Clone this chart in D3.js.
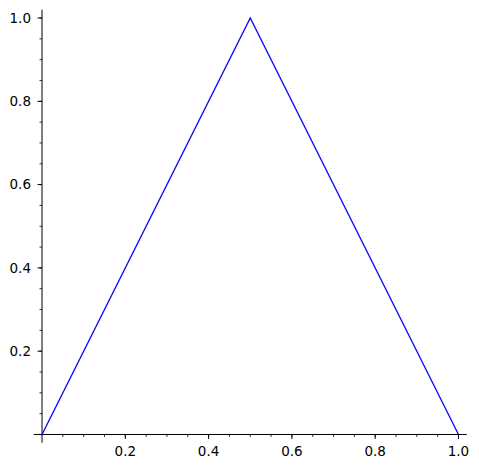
<!DOCTYPE html>
<html>
<head>
<meta charset="utf-8">
<script src="https://cdn.jsdelivr.net/npm/d3@7"></script>
<style>
  body { margin: 0; background: #fff; }
  text { font-family: "DejaVu Sans", sans-serif; font-size: 13.5px; fill: #000; }
</style>
</head>
<body>
<svg width="479" height="468"></svg>
<script>
// triangle function sampled at its corners
var xValues = [0, 0.5, 1];
var yValues = [0, 1, 0];
var xTicks = [0.2, 0.4, 0.6, 0.8, 1.0];
var yTicks = [0.2, 0.4, 0.6, 0.8, 1.0];
var minorTicks = d3.range(0.05, 1.0001, 0.05);

var svg = d3.select("svg");

// axes run a little past the data, like sage does
var x = d3.scaleLinear().domain([-0.02, 1.02]).range([33.7, 466.8]);
var y = d3.scaleLinear().domain([-0.02, 1.02]).range([442.8, 9.7]);

// x axis line at y = 0
svg.append("line")
  .attr("x1", x(-0.02)).attr("x2", x(1.02))
  .attr("y1", y(0)).attr("y2", y(0))
  .attr("stroke", "#000").attr("stroke-width", 1);

// y axis line at x = 0
svg.append("line")
  .attr("x1", x(0)).attr("x2", x(0))
  .attr("y1", y(-0.02)).attr("y2", y(1.02))
  .attr("stroke", "#000").attr("stroke-width", 1);

// minor ticks
svg.selectAll(".xminor").data(minorTicks).enter().append("line")
  .attr("x1", d => x(d)).attr("x2", d => x(d))
  .attr("y1", y(0)).attr("y2", y(0) + 2.5)
  .attr("stroke", "#000").attr("stroke-width", 0.8);

svg.selectAll(".yminor").data(minorTicks).enter().append("line")
  .attr("x1", x(0)).attr("x2", x(0) - 2.5)
  .attr("y1", d => y(d)).attr("y2", d => y(d))
  .attr("stroke", "#000").attr("stroke-width", 0.8);

// major ticks
svg.selectAll(".xmajor").data(xTicks).enter().append("line")
  .attr("x1", d => x(d)).attr("x2", d => x(d))
  .attr("y1", y(0)).attr("y2", y(0) + 4.5)
  .attr("stroke", "#000").attr("stroke-width", 1);

svg.selectAll(".ymajor").data(yTicks).enter().append("line")
  .attr("x1", x(0)).attr("x2", x(0) - 4.5)
  .attr("y1", d => y(d)).attr("y2", d => y(d))
  .attr("stroke", "#000").attr("stroke-width", 1);

// tick labels
svg.selectAll(".xlabel").data(xTicks).enter().append("text")
  .attr("x", d => x(d)).attr("y", y(0) + 21.5)
  .attr("text-anchor", "middle")
  .text(d => d.toFixed(1));

svg.selectAll(".ylabel").data(yTicks).enter().append("text")
  .attr("x", x(0) - 11).attr("y", d => y(d))
  .attr("dy", "0.36em")
  .attr("text-anchor", "end")
  .text(d => d.toFixed(1));

// the curve
var line = d3.line()
  .x((d, i) => x(xValues[i]))
  .y(d => y(d));

svg.append("path")
  .datum(yValues)
  .attr("d", line)
  .attr("fill", "none")
  .attr("stroke", "#0000ff")
  .attr("stroke-width", 1.3);
</script>
</body>
</html>
